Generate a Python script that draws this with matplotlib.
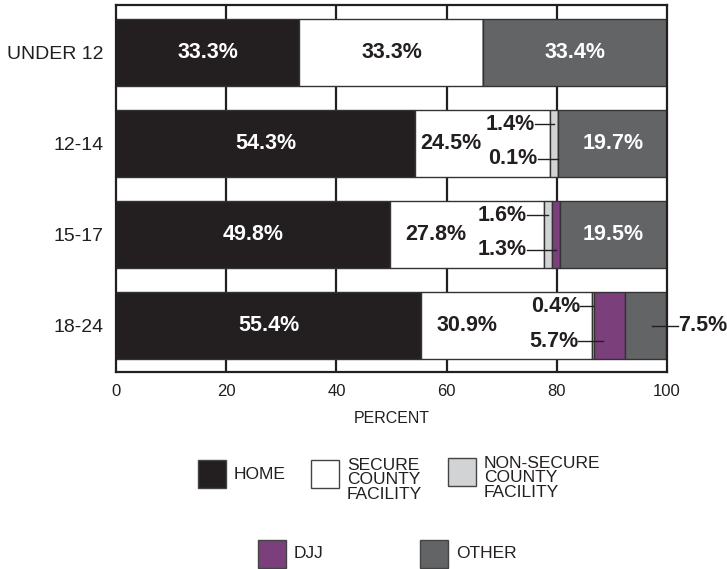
import matplotlib.pyplot as plt
from matplotlib.patches import Rectangle
import numpy as np

plt.rcParams['font.family'] = ['Liberation Sans', 'DejaVu Sans']

groups = ["UNDER 12", "12-14", "15-17", "18-24"]
series = ["HOME", "SECURE\nCOUNTY\nFACILITY", "NON-SECURE\nCOUNTY\nFACILITY", "DJJ", "OTHER"]
home = [33.3, 54.3, 49.8, 55.4]
secure = [33.3, 24.5, 27.8, 30.9]
nonsecure = [0.0, 1.4, 1.6, 0.4]
djj = [0.0, 0.1, 1.3, 5.7]
other = [33.4, 19.7, 19.5, 7.5]
colors = ["#231f20", "#ffffff", "#d1d3d4", "#7b3f7b", "#636466"]

# where the "secure" label sits (shifted left to make room for the small labels)
secure_label_x = [50.0, 60.8, 58.1, 63.7]
# right edge of the small labels (non-secure, djj)
small_text_x = [None, (76.0, 76.5), (74.6, 74.6), (84.2, 83.9)]

values = np.array([home, secure, nonsecure, djj, other])
y = np.arange(len(groups))

fig = plt.figure(figsize=(7.27, 5.69), dpi=100)
ax = fig.add_axes([116 / 727, 1 - 372 / 569, 551 / 727, 367 / 569])

for gx in [20, 40, 60, 80]:
    ax.axvline(gx, color="#231f20", lw=1.6, zorder=0)

left = np.zeros(len(groups))
for k in range(len(series)):
    ax.barh(y, values[k], left=left, height=0.74, color=colors[k],
            edgecolor="#333333", linewidth=1, zorder=2)
    left = left + values[k]

lab = dict(fontsize=15.5, fontweight="bold", va="center", zorder=5)
for i in range(len(groups)):
    h, s, n, d, o = values[:, i]
    ax.text(h / 2, y[i], f"{h:.1f}%", color="white", ha="center", **lab)
    ax.text(secure_label_x[i], y[i], f"{s:.1f}%", color="#231f20", ha="center", **lab)
    if o >= 10:
        ax.text(h + s + n + d + o / 2, y[i], f"{o:.1f}%", color="white", ha="center", **lab)
    else:
        ax.text(102.0, y[i], f"{o:.1f}%", color="#231f20", ha="left", clip_on=False, **lab)
        ax.plot([97.3, 102.0], [y[i], y[i]], color="#231f20", lw=1, zorder=6, clip_on=False)
    if small_text_x[i] is not None:
        tn, td = small_text_x[i]
        start = h + s
        for val, tx, dy in [(n, tn, -0.21), (d, td, 0.17)]:
            end = start + min(val / 2, 1.6)
            ax.text(tx, y[i] + dy, f"{val:.1f}%", color="#231f20", ha="right", **lab)
            ax.plot([tx, end], [y[i] + dy, y[i] + dy], color="#231f20", lw=1, zorder=6)
            start += val

ax.set_xlim(0, 100)
ax.set_ylim(3.51, -0.52)
ax.set_yticks(y)
ax.set_yticklabels(groups)
ax.set_xticks([0, 20, 40, 60, 80, 100])
ax.tick_params(length=0, pad=9, labelsize=12, colors="#231f20")
ax.tick_params(axis="y", labelsize=14, pad=9)
ax.set_xlabel("PERCENT", fontsize=11.5, color="#231f20", labelpad=8)
for sp in ax.spines.values():
    sp.set_color("#231f20")
    sp.set_linewidth(1.6)

# legend drawn by hand in pixel coordinates
lg = fig.add_axes([0, 0, 1, 1], zorder=10)
lg.set_xlim(0, 727)
lg.set_ylim(569, 0)
lg.axis("off")
slots = [(198, 460), (311, 460), (448, 458), (258, 540), (420, 540)]
for k, (px, py) in enumerate(slots):
    lg.add_patch(Rectangle((px, py), 28, 28, facecolor=colors[k], edgecolor="#444444", lw=1))
    multi = "\n" in series[k]
    lg.text(px + 36, py - 2 if multi else py + 14, series[k], fontsize=12.5,
            color="#231f20", va="top" if multi else "center", linespacing=0.95)

fig.savefig("out.png", dpi=100)
